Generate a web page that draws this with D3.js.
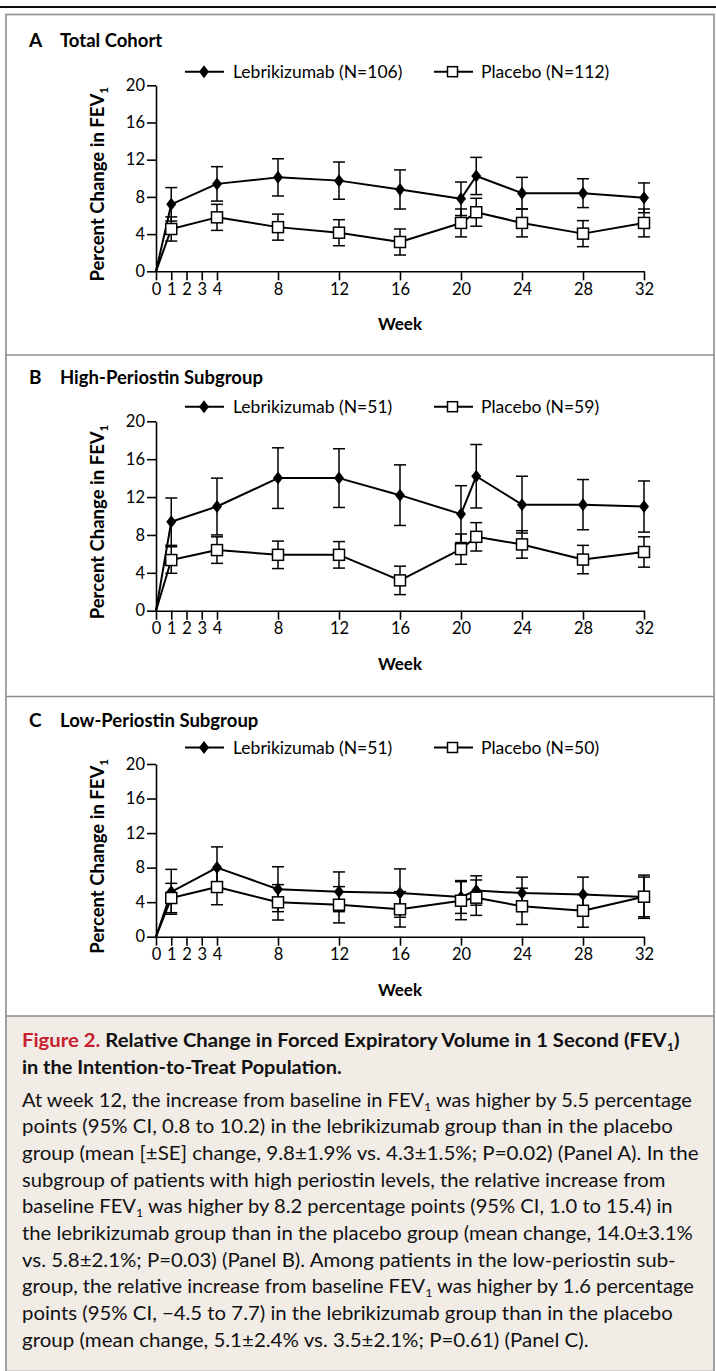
<!DOCTYPE html>
<html><head><meta charset="utf-8">
<script src="https://cdn.jsdelivr.net/npm/d3@7"></script>
<style>
html,body{margin:0;padding:0;background:#fff;}
svg{display:block;font-family:Lato,"DejaVu Sans",sans-serif;}
</style></head>
<body>
<script>
// ---------------- DATA ----------------
const weeks = [0, 1, 4, 8, 12, 16, 20, 21, 24, 28, 32];
const xTickValues = [0, 1, 2, 3, 4, 8, 12, 16, 20, 24, 28, 32];
const yTickValues = [0, 4, 8, 12, 16, 20];

const panelLetters = ["A", "B", "C"];
const panelTitles = ["Total Cohort", "High-Periostin Subgroup", "Low-Periostin Subgroup"];
const lebriLabels = ["Lebrikizumab (N=106)", "Lebrikizumab (N=51)", "Lebrikizumab (N=51)"];
const placeboLabels = ["Placebo (N=112)", "Placebo (N=59)", "Placebo (N=50)"];

const lebriA   = [0, 7.2, 9.4, 10.1, 9.75, 8.8, 7.8, 10.25, 8.4, 8.4, 7.9];
const lebriA_se = [0, 1.8, 1.85, 2.0, 2.0, 2.1, 1.8, 2.0, 1.7, 1.55, 1.6];
const placeboA   = [0, 4.55, 5.8, 4.75, 4.15, 3.15, 5.2, 6.35, 5.2, 4.05, 5.2];
const placeboA_se = [0, 1.3, 1.4, 1.4, 1.4, 1.4, 1.5, 1.5, 1.5, 1.4, 1.5];

const lebriB   = [0, 9.4, 11.0, 14.0, 14.0, 12.2, 10.2, 14.2, 11.2, 11.2, 11.0];
const lebriB_se = [0, 2.5, 3.0, 3.2, 3.1, 3.2, 3.0, 3.35, 3.0, 2.65, 2.7];
const placeboB   = [0, 5.35, 6.4, 5.9, 5.9, 3.2, 6.5, 7.8, 7.0, 5.4, 6.2];
const placeboB_se = [0, 1.4, 1.4, 1.45, 1.4, 1.5, 1.6, 1.5, 1.45, 1.5, 1.6];

const lebriC   = [0, 5.2, 8.0, 5.5, 5.2, 5.05, 4.6, 5.35, 5.05, 4.9, 4.6];
const lebriC_se = [0, 2.6, 2.4, 2.6, 2.3, 2.8, 1.9, 1.7, 1.85, 2.0, 2.3];
const placeboC   = [0, 4.48, 5.75, 3.98, 3.7, 3.17, 4.17, 4.52, 3.52, 3.0, 4.63];
const placeboC_se = [0, 1.7, 2.05, 2.05, 2.1, 2.05, 2.2, 2.05, 2.1, 1.9, 2.5];

const captionTitle = [
  [["Figure 2. ", "red"], ["Relative Change in Forced Expiratory Volume in 1 Second (FEV"], ["1", "sub"], [")"]],
  [["in the Intention-to-Treat Population."]]
];
const captionBody = [
  [["At week 12, the increase from baseline in FEV"], ["1", "sub"], [" was higher by 5.5 percentage"]],
  [["points (95% CI, 0.8 to 10.2) in the lebrikizumab group than in the placebo"]],
  [["group (mean [±SE] change, 9.8±1.9% vs. 4.3±1.5%; P=0.02) (Panel A). In the"]],
  [["subgroup of patients with high periostin levels, the relative increase from"]],
  [["baseline FEV"], ["1", "sub"], [" was higher by 8.2 percentage points (95% CI, 1.0 to 15.4) in"]],
  [["the lebrikizumab group than in the placebo group (mean change, 14.0±3.1%"]],
  [["vs. 5.8±2.1%; P=0.03) (Panel B). Among patients in the low-periostin sub-"]],
  [["group, the relative increase from baseline FEV"], ["1", "sub"], [" was higher by 1.6 percentage"]],
  [["points (95% CI, \u22124.5 to 7.7) in the lebrikizumab group than in the placebo"]],
  [["group (mean change, 5.1±2.4% vs. 3.5±2.1%; P=0.61) (Panel C)."]]
];
const captionBodyWidths = [670, 651, 677, 644, 651, 671, 654, 672, 651, 567];
const captionTitleWidths = [658, 320];

// ---------------- LAYOUT ----------------
const W = 716, H = 1371;
const panels = [
  {lebri: lebriA, lse: lebriA_se, plac: placeboA, pse: placeboA_se, y0: 271.3, y20: 85.3, titleY: 47, legY: 71.7},
  {lebri: lebriB, lse: lebriB_se, plac: placeboB, pse: placeboB_se, y0: 610.7, y20: 421.3, titleY: 384, legY: 406.7},
  {lebri: lebriC, lse: lebriC_se, plac: placeboC, pse: placeboC_se, y0: 936.7, y20: 764, titleY: 727, legY: 747.5}
];
const x = d3.scaleLinear().domain([0, 32]).range([156, 644]);

const svg = d3.select("body").append("svg").attr("width", W).attr("height", H);
svg.append("rect").attr("width", W).attr("height", H).attr("fill", "#fff");

// caption box
svg.append("rect").attr("x", 6).attr("y", 1016).attr("width", 708).attr("height", H - 1016)
  .attr("fill", "#f2ece7");
// frame
svg.append("rect").attr("x", 6).attr("y", 14.5).attr("width", 708).attr("height", H - 14)
  .attr("fill", "none").attr("stroke", "#8c8c8c").attr("stroke-width", 1.6);
[355, 696.5, 1016].forEach(yy => svg.append("line").attr("x1", 6).attr("x2", 714).attr("y1", yy).attr("y2", yy)
  .attr("stroke", "#8c8c8c").attr("stroke-width", 1.6));
// top rule
svg.append("line").attr("x1", 0).attr("x2", W).attr("y1", 7).attr("y2", 7).attr("stroke", "#111").attr("stroke-width", 2.2);

function rich(textSel, segs, size) {
  let sub = false;
  segs.forEach(s => {
    const t = textSel.append("tspan").text(s[0]);
    if (s[1] === "red") t.attr("fill", "#c8202f");
    if (s[1] === "sub") { t.attr("font-size", size * 0.62).attr("dy", size * 0.22); sub = true; }
    else if (sub) { t.attr("dy", -size * 0.22); sub = false; }
  });
}

const diamond = "M0,-6.5L5,0L0,6.5L-5,0Z";

panels.forEach((p, i) => {
  const y = d3.scaleLinear().domain([0, 20]).range([p.y0, p.y20]);
  const g = svg.append("g");

  // title
  g.append("text").attr("x", 29).attr("y", p.titleY).attr("font-size", 19).attr("font-weight", 700)
    .text(panelLetters[i]);
  g.append("text").attr("x", 60).attr("y", p.titleY).attr("font-size", 18.5).attr("font-weight", 700)
    .text(panelTitles[i]);

  // legend
  const lg = g.append("g");
  lg.append("line").attr("x1", 185).attr("x2", 224).attr("y1", p.legY).attr("y2", p.legY).attr("stroke", "#000").attr("stroke-width", 2);
  lg.append("path").attr("d", diamond).attr("transform", `translate(204,${p.legY})`).attr("fill", "#000");
  lg.append("text").attr("x", 233).attr("y", p.legY).attr("dy", "0.35em").attr("font-size", 17.5).text(lebriLabels[i]);
  lg.append("line").attr("x1", 434).attr("x2", 473).attr("y1", p.legY).attr("y2", p.legY).attr("stroke", "#000").attr("stroke-width", 2);
  lg.append("rect").attr("x", 447.5).attr("y", p.legY - 5).attr("width", 10).attr("height", 10).attr("fill", "#fff").attr("stroke", "#000").attr("stroke-width", 1.5);
  lg.append("text").attr("x", 481).attr("y", p.legY).attr("dy", "0.35em").attr("font-size", 17.5).text(placeboLabels[i]);

  // axes
  const xa = g.append("g").attr("transform", `translate(0,${p.y0})`)
    .call(d3.axisBottom(x).tickValues(xTickValues).tickSize(9).tickSizeOuter(0).tickPadding(3).tickFormat(d3.format("d")));
  const ya = g.append("g").attr("transform", `translate(${x(0)},0)`)
    .call(d3.axisLeft(y).tickValues(yTickValues).tickSize(9).tickSizeOuter(0).tickPadding(2).tickFormat(d3.format("d")));
  [xa, ya].forEach(a => {
    a.selectAll("path,line").attr("stroke", "#000").attr("stroke-width", 1.6);
    a.selectAll("text").attr("font-size", 16.5).attr("fill", "#000").attr("font-family", "Lato");
  });

  // axis titles
  g.append("text").attr("x", x(16)).attr("y", p.y0 + 59).attr("text-anchor", "middle")
    .attr("font-size", 17).attr("font-weight", 700).text("Week");
  const yl = g.append("text").attr("transform", `translate(104,${(p.y0 + p.y20) / 2 + 6}) rotate(-90)`)
    .attr("text-anchor", "middle").attr("font-size", 18.5).attr("font-weight", 700);
  rich(yl, [["Percent Change in FEV"], ["1", "sub"]], 18.5);

  const lebriPts = weeks.map((w, k) => ({w, v: p.lebri[k], se: p.lse[k]}));
  const placPts = weeks.map((w, k) => ({w, v: p.plac[k], se: p.pse[k]}));

  // error bars
  [placPts, lebriPts].forEach(pts => {
    const eb = g.append("g").attr("stroke", "#000").attr("stroke-width", 1.5).attr("fill", "none");
    pts.filter(d => d.se > 0).forEach(d => {
      const cx = x(d.w), top = y(d.v + d.se), bot = y(d.v - d.se);
      eb.append("line").attr("x1", cx).attr("x2", cx).attr("y1", top).attr("y2", bot);
      eb.append("line").attr("x1", cx - 6).attr("x2", cx + 6).attr("y1", top).attr("y2", top);
      eb.append("line").attr("x1", cx - 6).attr("x2", cx + 6).attr("y1", bot).attr("y2", bot);
    });
  });

  const line = d3.line().x(d => x(d.w)).y(d => y(d.v));
  [placPts, lebriPts].forEach(pts => g.append("path").attr("d", line(pts)).attr("fill", "none")
    .attr("stroke", "#000").attr("stroke-width", 2).attr("stroke-linejoin", "round"));

  // markers
  g.selectAll(null).data(lebriPts.slice(1)).join("path").attr("d", diamond)
    .attr("transform", d => `translate(${x(d.w)},${y(d.v)})`).attr("fill", "#000");
  g.selectAll(null).data(placPts.slice(1)).join("rect")
    .attr("x", d => x(d.w) - 5.5).attr("y", d => y(d.v) - 5.5).attr("width", 11).attr("height", 11)
    .attr("fill", "#fff").attr("stroke", "#000").attr("stroke-width", 1.5);
});

// caption
function fitLine(segs, yy, size, weight, width) {
  const t = svg.append("text").attr("x", 0).attr("y", 0).attr("font-size", size).attr("font-weight", weight).attr("fill", "#111");
  rich(t, segs, size);
  const w0 = t.node().getComputedTextLength();
  const s = width / w0;
  t.attr("transform", `translate(22,${yy}) scale(${s},1)`);
}
captionTitle.forEach((segs, k) => fitLine(segs, 1047 + k * 27, 18, 700, captionTitleWidths[k]));
captionBody.forEach((segs, k) => fitLine(segs, 1106.5 + k * 26.7, 18.5, 400, captionBodyWidths[k]));
</script>
</body></html>
